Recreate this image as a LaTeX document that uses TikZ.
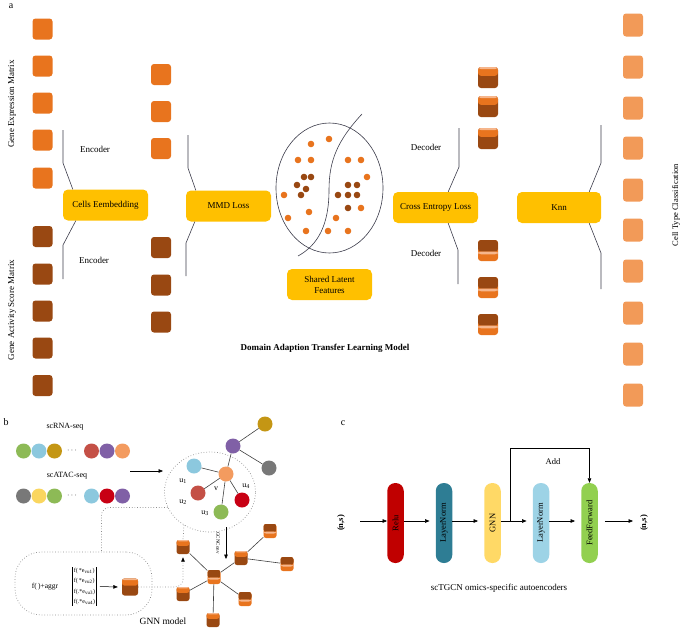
\documentclass[tikz,border=0pt]{standalone}
\usepackage{fontspec}
\setmainfont{Liberation Serif}
\usetikzlibrary{arrows.meta,calc,shapes.geometric}
\definecolor{cor}{RGB}{232,116,30}
\definecolor{cbr}{RGB}{153,72,18}
\definecolor{clo}{RGB}{242,154,88}
\definecolor{cgold}{RGB}{255,192,0}
\definecolor{cpeach}{RGB}{246,182,140}
\definecolor{cline}{RGB}{60,60,75}
\definecolor{bgreen}{RGB}{141,186,86}
\definecolor{bblue}{RGB}{140,200,222}
\definecolor{bolive}{RGB}{196,150,20}
\definecolor{bred}{RGB}{196,80,70}
\definecolor{bpurple}{RGB}{128,96,166}
\definecolor{borange}{RGB}{243,155,95}
\definecolor{bgray}{RGB}{120,120,120}
\definecolor{byellow}{RGB}{250,214,95}
\definecolor{bdred}{RGB}{200,0,20}
\definecolor{pred}{RGB}{192,0,0}
\definecolor{pteal}{RGB}{46,125,148}
\definecolor{pyellow}{RGB}{255,217,102}
\definecolor{pblue}{RGB}{157,211,230}
\definecolor{pgreen}{RGB}{146,208,80}
\tikzset{
 sqbase/.style={rounded corners=3pt, minimum width=20pt, minimum height=21pt, inner sep=0pt},
 osq/.style={sqbase, fill=cor},
 bsq/.style={sqbase, fill=cbr},
 lsq/.style={sqbase, fill=clo, minimum height=23pt},
 topor/.style={fill=cbr, path picture={
   \fill[cor] ($(path picture bounding box.south west)!0.58!(path picture bounding box.north west)$) rectangle (path picture bounding box.north east);
   \fill[cpeach] ($(path picture bounding box.south west)!0.9!(path picture bounding box.north west)$) rectangle (path picture bounding box.north east);}},
 botor/.style={fill=cor, path picture={
   \fill[cbr] ($(path picture bounding box.south west)!0.45!(path picture bounding box.north west)$) rectangle (path picture bounding box.north east);
   \fill[cpeach] ($(path picture bounding box.south west)!0.32!(path picture bounding box.north west)$) rectangle ($(path picture bounding box.south east)!0.45!(path picture bounding box.north east)$);}},
 dsqA/.style={sqbase, topor},
 dsqB/.style={sqbase, botor},
 gsqA/.style={dsqA, minimum width=13pt, minimum height=14pt, rounded corners=2.5pt},
 gsqB/.style={dsqB, minimum width=13pt, minimum height=14pt, rounded corners=2.5pt},
 gbox/.style={fill=cgold, rounded corners=5pt, minimum width=85pt, minimum height=31pt, inner sep=1pt, font=\fontsize{9}{11}\selectfont, align=center},
 lab/.style={font=\fontsize{9}{11}\selectfont, inner sep=0pt},
 sml/.style={font=\fontsize{8}{9}\selectfont, inner sep=0pt},
 conn/.style={draw=cline, line width=0.6pt},
 bc/.style={circle, minimum size=15pt, inner sep=0pt},
 gedge/.style={draw=black!75, line width=0.6pt},
 arr/.style={line width=0.6pt, -{Triangle[length=4.5pt,width=3.6pt]}},
 dotl/.style={dotted, draw=black!45, line width=0.7pt},
 pill/.style={rounded corners=8pt, minimum width=80pt, minimum height=16.5pt, inner sep=0pt, font=\fontsize{8.5}{10}\selectfont}
}
\begin{document}
\begin{tikzpicture}[x=1pt,y=-1pt]
\useasboundingbox (0,0) rectangle (683,632);
% ---------- panel a ----------
\node[font=\fontsize{10}{12}\selectfont] (la) at (11,6) {a};
\foreach \y [count=\i] in {29,66,103,140,178} \node[osq] (lo\i) at (42.5,\y) {};
\foreach \y [count=\i] in {236.5,274,311,348,385.5} \node[bsq] (lb\i) at (42.5,\y) {};
\node[lab, rotate=90] (gem) at (12,104) {Gene Expression Matrix};
\node[lab, rotate=90] (gasm) at (12,310) {Gene Activity Score Matrix};
\foreach \y [count=\i] in {74.5,111.5,148.5} \node[osq] (mo\i) at (161,\y) {};
\foreach \y [count=\i] in {247.5,285,322} \node[bsq] (mb\i) at (161,\y) {};
\node[gbox] (emb) at (105.5,205) {Cells Eembedding};
\node[gbox] (mmd) at (228.5,206) {MMD Loss};
\node[gbox] (shared) at (329.5,284.5) {Shared Latent\\Features};
\node[gbox] (ce) at (435.5,207.5) {Cross Entropy Loss};
\node[gbox, minimum width=84pt] (knn) at (559,207.5) {Knn};
\node[lab] (enc1) at (95,149) {Encoder};
\node[lab] (enc2) at (94,260) {Encoder};
\node[lab] (dec1) at (426,147) {Decoder};
\node[lab] (dec2) at (426,253) {Decoder};
\coordinate (ea) at (63,130); \coordinate (eb) at (63,279);
\coordinate (ma) at (188,135); \coordinate (mb) at (186,276);
\coordinate (da) at (459,128); \coordinate (db) at (458,284);
\coordinate (ka) at (601,125); \coordinate (kb) at (601,289);
\draw[conn] (ea) -- (63,163) -- ([xshift=10pt]emb.north west);
\draw[conn] ([xshift=13pt]emb.south west) -- (63,245) -- (eb);
\draw[conn] (ma) -- (188,168) -- ([xshift=10pt]mmd.north west);
\draw[conn] ([xshift=9pt]mmd.south west) -- (186,243) -- (mb);
\draw[conn] (da) -- (459,167) -- ([xshift=-30pt]ce.north east);
\draw[conn] ([xshift=-30pt]ce.south east) -- (458,250) -- (db);
\draw[conn] (ka) -- (601,163) -- ([xshift=-12pt]knn.north east);
\draw[conn] ([xshift=-12pt]knn.south east) -- (601,253) -- (kb);
% latent ellipse
\node[ellipse, draw=cline, line width=0.6pt, minimum width=107pt, minimum height=130pt, inner sep=0pt] (lat) at (329.5,188) {};
\draw[conn] (362,114) .. controls (338,140) and (329,160) .. (329,190) .. controls (329,225) and (318,245) .. (298,256);
\foreach \x/\y in {311/144,329/139,298/160,311/160,348/160,361/160,367/177,284/195,309/212,288/218,336/218,361/208,306/231,328/231,348/231}
  \fill[cor] (\x,\y) circle (3.3pt);
\foreach \x/\y in {304/177,311/177,297/185,306/189,301/195,348/185,357/185,338/195,348/195,357/195,348/208}
  \fill[cbr] (\x,\y) circle (3.3pt);
\foreach \y [count=\i] in {77.5,106.5,138.5} \node[dsqA] (dt\i) at (488,\y) {};
\foreach \y [count=\i] in {250.5,287.5,324.5} \node[dsqB] (dbt\i) at (488,\y) {};
\foreach \y [count=\i] in {25,67,108,148,190,230,271,313,354,395} \node[lsq] (ro\i) at (633,\y) {};
\node[font=\fontsize{8.5}{10}\selectfont, inner sep=0pt, rotate=90] (ctc) at (676,205) {Cell Type Classification};
\node[font=\bfseries\fontsize{9}{11}\selectfont, inner sep=0pt] (title) at (325,348) {Domain Adaption Transfer Learning Model};
% ---------- panel b ----------
\node[font=\fontsize{10}{12}\selectfont] (lbb) at (6,422) {b};
\node[sml] (rna) at (65,427) {scRNA-seq};
\node[sml] (atac) at (67,476) {scATAC-seq};
\node[bc, fill=bgreen] (r1) at (23.5,451) {};
\node[bc, fill=bblue] (r2) at (39,451) {};
\node[bc, fill=bolive] (r3) at (54.5,451) {};
\node[sml] (rd) at (72,451) {$\cdots$};
\node[bc, fill=bred] (r4) at (91.5,451) {};
\node[bc, fill=bpurple] (r5) at (107,451) {};
\node[bc, fill=borange] (r6) at (122.5,451) {};
\node[bc, fill=bgray] (a1) at (23.5,496) {};
\node[bc, fill=byellow] (a2) at (39,496) {};
\node[bc, fill=bgreen] (a3) at (54.5,496) {};
\node[sml] (ad) at (72,496) {$\cdots$};
\node[bc, fill=bblue] (a4) at (91.5,496) {};
\node[bc, fill=bdred] (a5) at (107,496) {};
\node[bc, fill=bpurple] (a6) at (122.5,496) {};
\coordinate (inA) at (130,471);
\node[ellipse, dotl, minimum width=91pt, minimum height=80pt, inner sep=0pt] (nbh) at (210,492) {};
\draw[arr] (inA) -- (163,471);
\node[bc, fill=bblue] (gu1) at (194,466) {};
\node[bc, fill=borange] (gv) at (226,474) {};
\node[bc, fill=bred] (gu2) at (198,493) {};
\node[bc, fill=bdred] (gu4) at (242,500) {};
\node[bc, fill=bgreen] (gu3) at (221,512) {};
\node[bc, fill=bpurple] (gp) at (233,446) {};
\node[bc, fill=bolive] (go) at (265,424) {};
\node[bc, fill=bgray] (gg) at (269,468) {};
\draw[gedge] (gv) -- (gu1); \draw[gedge] (gv) -- (gu2); \draw[gedge] (gv) -- (gu4);
\draw[gedge] (gv) -- (gu3); \draw[gedge] (gv) -- (gp);
\draw[gedge] (gp) -- (go); \draw[gedge] (gp) -- (gg);
\node[sml] (tu1) at (183,481) {u\textsubscript{1}};
\node[sml] (tv) at (216,489) {v};
\node[sml] (tu2) at (183,502) {u\textsubscript{2}};
\node[sml] (tu3) at (205,513) {u\textsubscript{3}};
\node[sml] (tu4) at (246,486) {u\textsubscript{4}};
% lower graph
\node[gsqB] (hub) at (214,577) {};
\node[gsqA] (n1) at (241,558) {};
\node[gsqB] (n2) at (270,531) {};
\node[gsqB] (n3) at (287,564) {};
\node[gsqA] (n4) at (183,547) {};
\node[gsqA] (n5) at (183,594) {};
\node[gsqB] (n6) at (245,599) {};
\node[gsqA] (n7) at (213,620) {};
\draw[gedge] (hub) -- (n1); \draw[gedge] (n1) -- (n2); \draw[gedge] (n1) -- (n3);
\draw[gedge] (hub) -- (n4); \draw[gedge] (hub) -- (n5); \draw[gedge] (hub) -- (n6); \draw[gedge] (hub) -- (n7);
\coordinate (gcA) at (226,527); \coordinate (gcB) at (226,559);
\draw[arr] (gcA) -- (gcB);
\node[font=\fontsize{5}{6}\selectfont, rotate=-90, inner sep=0pt] (gcn) at (218,543) {GCNConv};
% aggregation loop
\node[dotl, rounded corners=26pt, minimum width=137pt, minimum height=63pt, inner sep=0pt] (loop) at (83.5,583.5) {};
\node[font=\fontsize{7.5}{9}\selectfont, inner sep=0pt] (agg) at (45,587) {f(\,)+aggr};
\node[font=\fontsize{6}{10.5}\selectfont, inner sep=1.5pt, align=left] (mat) at (84.5,586.5) {f(\,*e\textsubscript{vu1})\\f(\,*e\textsubscript{vu2})\\f(.*e\textsubscript{vu3})\\f(.*e\textsubscript{vu4})};
\draw[line width=0.6pt] ([yshift=-1pt]mat.north west) -- ([yshift=1pt]mat.south west);
\draw[line width=0.6pt] ([yshift=-1pt]mat.north east) -- ([yshift=1pt]mat.south east);
\node[gsqA, minimum width=16pt, minimum height=17pt] (sq0) at (130,587) {};
\draw[arr, line width=0.5pt] ([xshift=3pt]mat.east) -- ([xshift=-4pt]sq0.west);
\draw[dotl, rounded corners=8pt] (nbh.200) -| ([xshift=18pt]loop.north);
\coordinate (nbhb) at (184,525);
\draw[dotl] (nbhb) -- (n4.north);
\draw[dotl, rounded corners=8pt, -{Triangle[length=4.5pt,width=3.6pt,color=black,fill=black]}] (sq0.east) -| ([yshift=-3pt]n4.south);
\node[font=\fontsize{9.5}{11}\selectfont, inner sep=0pt] (gnnm) at (163,621) {GNN model};
% ---------- panel c ----------
\node[font=\fontsize{10}{12}\selectfont] (lc) at (343,423) {c};
\node[pill, fill=pred, rotate=90] (relu) at (395.5,523) {Relu};
\node[pill, fill=pteal, rotate=90] (ln1) at (444,523) {LayerNorm};
\node[pill, fill=pyellow, rotate=90] (gnn) at (492.5,523) {GNN};
\node[pill, fill=pblue, rotate=90] (ln2) at (541,523) {LayerNorm};
\node[pill, fill=pgreen, rotate=90] (ff) at (589.5,523) {FeedForward};
\node[font=\bfseries\fontsize{8.5}{10}\selectfont, rotate=90, inner sep=0pt] (nsL) at (341,523) {(n,s)};
\node[font=\bfseries\fontsize{8.5}{10}\selectfont, rotate=90, inner sep=0pt] (nsR) at (644,523) {(n,s)};
\coordinate (inC) at (360,521); \coordinate (outC) at (633,521);
\coordinate (br) at (510,521);
\draw[arr] (inC) -- (relu.north |- inC);
\draw[arr] (relu.south |- inC) -- ([xshift=-6pt]ln1.north |- inC);
\draw[arr] (ln1.south |- inC) -- ([xshift=-6pt]gnn.north |- inC);
\draw[arr] (gnn.south |- inC) -- ([xshift=-6pt]ln2.north |- inC);
\draw[arr] (ln2.south |- inC) -- ([xshift=-6pt]ff.north |- inC);
\draw[arr] ([xshift=7pt]ff.south |- inC) -- (outC);
\draw[arr] (br) |- ([yshift=35pt]ff.east) -- (ff.east);
\node[font=\fontsize{8.5}{10}\selectfont, inner sep=0pt] (add) at (553,462) {Add};
\node[lab] (cap) at (499,588) {scTGCN omics-specific autoencoders};
\end{tikzpicture}
\end{document}
